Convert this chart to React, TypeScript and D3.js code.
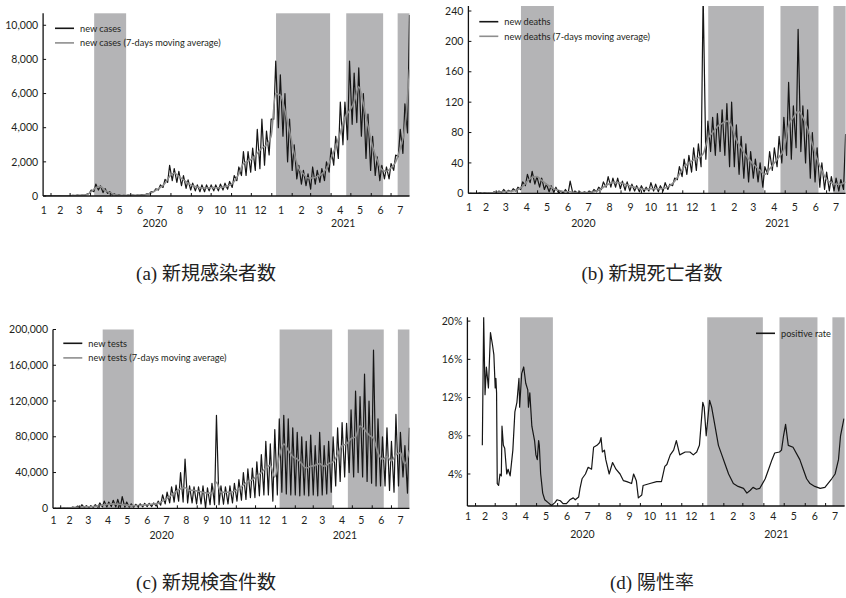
import { useEffect, useRef } from 'react';
import * as d3 from 'd3';

const W = 846, H = 598;
const FIRST_MON = 19; // 2020-01-20, day index from 2020-01-01
const END_DAY = 575;  // 2021-07-29

// weekly values: LO = Monday, HI = Thursday, MA = 7-day average (Thursday)
const CASES_LO = [0,1,1,1,5,10,15,20,25,40,150,250,350,200,150,60,20,15,20,30,30,40,60,120,250,350,500,800,900,800,600,450,350,300,250,250,300,300,300,350,400,500,900,1200,1200,1400,1500,1600,1800,2400,4500,4000,3500,2000,1500,1000,700,600,400,700,800,900,1400,1800,2200,3000,3300,4200,4300,3500,2200,1500,1200,900,1000,1000,1500,2300,2500,3700];
const CASES_HI = [1,3,3,5,15,25,40,55,50,100,350,700,600,430,260,130,70,40,50,50,60,80,120,250,420,650,980,1800,1600,1450,1200,950,750,650,650,650,650,650,700,750,850,1200,1700,2600,2600,2800,3900,4500,3800,4500,7900,7100,6000,4500,3000,1800,1500,1300,1700,1500,1600,2000,2800,3500,5500,5500,7900,7200,7500,6000,4800,3500,2300,1800,1700,1900,2400,3900,5400,10600];
const CASES_MA = [0,1,2,3,8,15,25,35,40,70,250,480,550,330,200,90,45,30,35,40,45,55,90,180,330,500,750,1150,1350,1150,950,750,600,520,470,470,500,480,500,550,620,850,1300,1900,2050,2200,2500,2800,3000,3500,6000,5900,5000,3800,2500,1600,1300,1050,1050,1150,1300,1600,2200,2900,3700,4600,5000,5500,6400,5400,4100,2900,2100,1550,1450,1650,2000,2800,4000,7400];

const DEATHS_LO = [0,0,0,0,0,0,0,1,1,2,3,5,10,14,12,8,5,2,1,0,0,0,0,0,0,0,1,2,5,8,8,8,6,4,3,3,2,2,3,3,2,3,5,10,18,22,25,28,30,35,45,55,50,55,50,35,35,25,20,15,20,15,8,25,30,35,40,50,45,60,55,40,20,15,8,5,3,3,3,5];
const DEATHS_HI = [0,0,1,1,1,2,3,5,4,6,8,15,25,29,22,20,12,10,8,3,5,16,3,2,2,3,5,8,15,22,20,20,16,15,12,10,10,8,14,12,10,14,12,20,35,45,50,60,65,262,95,100,105,110,118,120,90,75,65,55,45,40,35,55,60,75,100,146,115,216,115,110,80,60,40,28,22,20,18,78];
const DEATHS_MA = [0,0,0,0.3,0.5,1,1.5,2,2.5,3,5,9,16,21,22,17,12,8,5,3,2,2,1,1,1,1,2,4,8,12,14,14,13,11,9,7,6,5,6,6,6,7,10,16,25,35,40,44,47,52,72,80,88,92,95,88,70,60,50,42,36,30,25,32,40,48,58,90,100,108,100,85,65,45,30,18,14,12,12,15];

const TESTS_LO = [0,0,0,0,200,300,500,800,800,1000,1200,1500,1500,2000,1500,1000,1200,1200,1200,1500,1500,2000,2000,2500,3500,5000,6000,7000,8000,7000,6000,6000,5000,5000,0,4000,4000,4000,4500,5000,6000,8000,9000,10000,12000,12000,14000,15000,15000,8000,15000,18000,16000,15000,15000,14000,15000,14000,15000,14000,15000,16000,18000,25000,30000,35000,40000,35000,40000,35000,30000,28000,25000,25000,25000,20000,18000,25000,35000,17000];
const TESTS_HI = [0,200,500,800,1500,2500,4000,3000,3000,4000,6000,8000,7000,9000,10000,13000,7000,5000,4500,5000,5500,5500,6000,8000,15000,18000,24000,26000,40000,55000,25000,24000,24000,25000,23000,28000,104000,25000,24000,25000,28000,32000,40000,44000,45000,52000,60000,75000,72000,88000,100000,104000,100000,90000,85000,80000,75000,82000,70000,85000,70000,75000,80000,90000,96000,95000,110000,131000,125000,150000,120000,177000,100000,80000,90000,75000,105000,85000,70000,90000];
const TESTS_MA = [0,100,300,500,800,1200,1500,1600,1800,2200,3000,4000,4500,5000,4500,4000,3500,3000,3000,3300,3800,4200,4800,5500,8000,11000,15000,19000,22000,23000,20000,20000,19000,18000,17000,17000,29000,18000,18000,18000,19000,22000,26000,30000,32000,36000,40000,45000,48000,35000,58000,72000,65000,58000,55000,50000,45000,47000,48000,50000,47000,50000,52000,60000,70000,72000,78000,80000,92000,88000,82000,78000,62000,55000,58000,53000,60000,62000,50000,65000];

// positive rate (%): day index, value
const POS_DAYS = [41,43,45,47,50,53,56,58,60,61,62,63,65,67,69,70,72,74,77,79,82,86,89,92,95,96,99,102,105,108,109,111,114,118,120,122,124,125,127,130,133,138,143,148,151,156,160,165,170,175,178,183,185,188,193,197,202,205,210,214,216,218,221,223,228,233,238,244,249,254,261,264,268,271,276,278,288,298,305,310,313,318,323,327,332,340,347,352,357,361,366,368,371,376,379,384,389,394,399,404,411,418,426,431,436,440,445,450,458,463,468,472,479,482,485,488,492,499,509,514,519,524,531,539,546,556,561,566,569,574];
const POS_VALS = [7,20.4,12.3,15.2,13,18.8,17.5,16.5,13,14,12.5,3,2.8,4,3.8,9,7,6.7,4,4.5,3.8,6.5,10.5,11.5,14,11,14.5,15.2,13.5,12.8,11,12.5,9,7.5,6,5.5,7.5,7,4,2,1.3,1,0.7,1,1.3,1.2,0.9,0.9,1.3,1.5,1.3,1.6,2.5,3.5,4,4.7,4.5,6.8,7,7.3,7.8,6.3,6.5,5.5,4,5.2,4.5,4,3.3,3.2,3,4,3.3,1.5,1.8,2.8,3,3.2,3.2,4.8,5,6,6.5,7.5,6,6.3,6.3,6,6.3,7,11.5,11,8,11.7,11,9,7,6,5,4,3,2.7,2.5,2,2.3,2.6,2.4,2.5,3.5,4.5,5.5,6.2,6.3,6.5,8,9.2,7,6.8,5.5,4.5,3.5,3,2.7,2.5,2.6,3.5,4,5.5,8,9.8];

// states of emergency (day index)
const EMERGENCY = [[96.5, 145], [372.5, 454.5], [479, 535], [557, 575]];
const MONTH_LABELS = ['1','2','3','4','5','6','7','8','9','10','11','12','1','2','3','4','5','6','7'];
const YEAR_LABELS = [['2020', 188.5], ['2021', 474.5]];

const CAPTIONS = ['(a) 新規感染者数', '(b) 新規死亡者数', '(c) 新規検査件数', '(d) 陽性率'];

const dt = (n: number) => new Date(Date.UTC(2020, 0, 1) + n * 864e5);
const zig = (lo: number[], hi: number[]) =>
  lo.flatMap((v, i) => [[FIRST_MON + 7 * i, v], [FIRST_MON + 3 + 7 * i, hi[i]]]);
const weekly = (ma: number[]) => ma.map((v, i) => [FIRST_MON + 3 + 7 * i, v]);

const PANELS = [
  { x: [43.1, 409.5], y: [196, 13.3], dom: [0, 10700], ticks: [0, 2000, 4000, 6000, 8000, 10000], fmt: d3.format(','),
    daily: zig(CASES_LO, CASES_HI), ma: weekly(CASES_MA), monthY: 210, yearY: 223, legX: 55, legY: 28.3,
    names: ['new cases', 'new cases (7-days moving average)'], capX: 206, capY: 273 },
  { x: [468.4, 845.6], y: [193.3, 6], dom: [0, 246.6], ticks: [0, 40, 80, 120, 160, 200, 240], fmt: d3.format('d'),
    daily: zig(DEATHS_LO, DEATHS_HI), ma: weekly(DEATHS_MA), monthY: 207, yearY: 223, legX: 479.3, legY: 21.7,
    names: ['new deaths', 'new deaths (7-days moving average)'], capX: 652, capY: 273 },
  { x: [53, 409.4], y: [508.3, 329.5], dom: [0, 200000], ticks: [0, 40000, 80000, 120000, 160000, 200000], fmt: d3.format(','),
    daily: zig(TESTS_LO, TESTS_HI), ma: weekly(TESTS_MA), monthY: 520.7, yearY: 535, legX: 63.3, legY: 343.3,
    names: ['new tests', 'new tests (7-days moving average)'], capX: 206, capY: 582 },
  { x: [467.4, 844.6], y: [506, 317.3], dom: [0.65, 20.4], ticks: [4, 8, 12, 16, 20], fmt: (d: number) => `${d}%`,
    daily: POS_DAYS.map((d, i) => [d, POS_VALS[i]]), ma: null, monthY: 516.7, yearY: 534, legX: 756, legY: 333.3,
    names: ['positive rate'], capX: 652, capY: 582 },
];

export default function App() {
  const ref = useRef<SVGSVGElement>(null);
  useEffect(() => {
    const svg = d3.select(ref.current); svg.selectAll('*').remove();
    const font = 'Lato, "Open Sans", sans-serif';
    PANELS.forEach((p, pi) => {
      const x = d3.scaleTime().domain([dt(FIRST_MON), dt(END_DAY)]).range(p.x as [number, number]);
      const y = d3.scaleLinear().domain(p.dom).range(p.y as [number, number]);
      const g = svg.append('g');
      const [x0, x1] = p.x, [yb, yt] = p.y;
      const clipId = `clip${pi}`;
      g.append('clipPath').attr('id', clipId).append('rect')
        .attr('x', x0).attr('y', yt).attr('width', x1 - x0).attr('height', yb - yt);

      g.append('g').selectAll('rect').data(EMERGENCY).join('rect')
        .attr('x', d => x(dt(d[0]))).attr('width', d => x(dt(d[1])) - x(dt(d[0])))
        .attr('y', yt).attr('height', yb - yt).attr('fill', '#b4b4b6');

      const line = d3.line<number[]>().x(d => x(dt(d[0]))).y(d => y(d[1]));
      const lines = g.append('g').attr('clip-path', `url(#${clipId})`);
      lines.append('path').attr('d', line(p.daily)).attr('fill', 'none')
        .attr('stroke', '#161616').attr('stroke-width', 1.2).attr('stroke-linejoin', 'round');
      if (p.ma) lines.append('path').attr('d', line.curve(d3.curveMonotoneX)(p.ma)).attr('fill', 'none')
        .attr('stroke', '#8e8e8e').attr('stroke-width', 1.6);

      // axes
      g.append('line').attr('x1', x0).attr('x2', x0).attr('y1', yb).attr('y2', yt).attr('stroke', '#111').attr('stroke-width', 1.3);
      g.append('line').attr('x1', x0).attr('x2', x1).attr('y1', yb).attr('y2', yb).attr('stroke', '#111').attr('stroke-width', 1.3);
      g.append('g').selectAll('line').data(p.ticks).join('line')
        .attr('x1', x0).attr('x2', x0 + 3).attr('y1', d => y(d)).attr('y2', d => y(d)).attr('stroke', '#111');
      g.append('g').selectAll('text').data(p.ticks).join('text')
        .attr('x', x0 - 5).attr('y', d => y(d)).attr('dy', '0.35em').attr('text-anchor', 'end')
        .attr('font-family', font).attr('font-size', 10.5).attr('fill', '#231f20').text(d => p.fmt(d));

      const months = d3.utcMonth.range(new Date(Date.UTC(2020, 1, 1)), dt(END_DAY));
      g.append('g').selectAll('line').data(months).join('line')
        .attr('x1', d => x(d)).attr('x2', d => x(d)).attr('y1', yb).attr('y2', yb - 3).attr('stroke', '#111');
      const labelDates = d3.utcMonth.range(new Date(Date.UTC(2020, 0, 1)), new Date(Date.UTC(2021, 7, 1)))
        .map((m, i) => (i === 0 ? dt(FIRST_MON + 1) : d3.utcDay.offset(m, 14)));
      g.append('g').selectAll('text').data(labelDates).join('text')
        .attr('x', d => x(d)).attr('y', p.monthY).attr('dy', '0.35em').attr('text-anchor', 'middle')
        .attr('font-family', font).attr('font-size', 10.5).attr('fill', '#231f20').text((_, i) => MONTH_LABELS[i]);
      g.append('g').selectAll('text').data(YEAR_LABELS).join('text')
        .attr('x', d => x(dt(d[1] as number))).attr('y', p.yearY).attr('dy', '0.35em').attr('text-anchor', 'middle')
        .attr('font-family', font).attr('font-size', 10.5).attr('fill', '#231f20').text(d => d[0] as string);

      // legend
      p.names.forEach((n, i) => {
        const ly = p.legY + i * 14.6;
        g.append('line').attr('x1', p.legX).attr('x2', p.legX + 19).attr('y1', ly).attr('y2', ly)
          .attr('stroke', i === 0 ? '#161616' : '#8e8e8e').attr('stroke-width', 1.6);
        g.append('text').attr('x', p.legX + 25).attr('y', ly).attr('dy', '0.35em')
          .attr('font-family', font).attr('font-size', 9.2).attr('fill', '#231f20').text(n);
      });

      g.append('text').attr('x', p.capX).attr('y', p.capY).attr('dy', '0.35em').attr('text-anchor', 'middle')
        .attr('font-family', '"Liberation Serif", "Noto Sans CJK JP", serif').attr('font-size', 19)
        .attr('fill', '#222').text(CAPTIONS[pi]);
    });
  }, []);
  return (
    <svg ref={ref} width={W} height={H} viewBox={`0 0 ${W} ${H}`}
      style={{ position: 'absolute', left: 0, top: 0, background: '#fff' }} />
  );
}
